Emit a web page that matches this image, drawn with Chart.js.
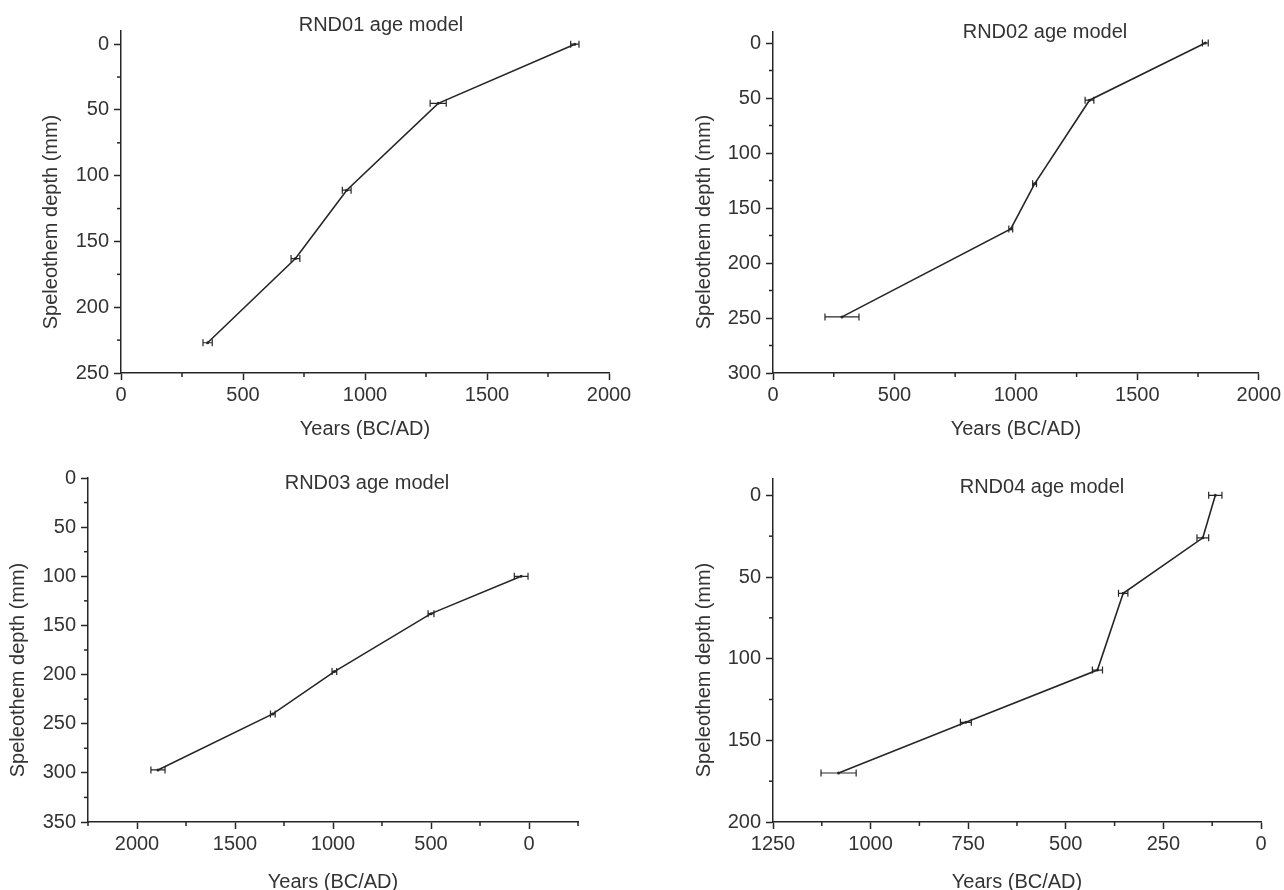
<!DOCTYPE html>
<html>
<head>
<meta charset="utf-8">
<title>RND age models</title>
<script src="https://cdn.jsdelivr.net/npm/chart.js@4.4.1/dist/chart.umd.min.js"></script>
<style>
  html, body { margin: 0; padding: 0; background: #fff; }
  #wrap { position: relative; width: 1284px; height: 890px; overflow: hidden; }
  #wrap canvas { position: absolute; }
</style>
</head>
<body>
<div id="wrap">
  <canvas id="c1" width="642" height="445" style="left:0;top:0"></canvas>
  <canvas id="c2" width="642" height="445" style="left:642px;top:0"></canvas>
  <canvas id="c3" width="642" height="445" style="left:0;top:445px"></canvas>
  <canvas id="c4" width="642" height="445" style="left:642px;top:445px"></canvas>
</div>
<script>
// values: age (years BC/AD), depth (mm), age error (+/- years)
const rnd01Years = [1860, 1300, 925, 715, 355];
const rnd01Depth = [0, 45, 111, 163, 227];
const rnd01Err   = [17, 33, 18, 18, 19];

const rnd02Years = [1780, 1303, 1077, 979, 284];
const rnd02Depth = [0, 52, 128, 169, 249];
const rnd02Err   = [12, 18, 8, 8, 70];

const rnd03Years = [40, 500, 993, 1307, 1893];
const rnd03Depth = [100, 138, 197, 240, 297];
const rnd03Err   = [35, 15, 12, 12, 36];

const rnd04Years = [117, 149, 353, 419, 756, 1082];
const rnd04Depth = [0, 26, 60, 107, 139, 170];
const rnd04Err   = [17, 15, 12, 13, 14, 45];

// labelled ticks
const yearTicks2000 = [0, 500, 1000, 1500, 2000];
const yearTicks1250 = [0, 250, 500, 750, 1000, 1250];
const depthTicks250 = [0, 50, 100, 150, 200, 250];
const depthTicks300 = [0, 50, 100, 150, 200, 250, 300];
const depthTicks350 = [0, 50, 100, 150, 200, 250, 300, 350];
const depthTicks200 = [0, 50, 100, 150, 200];

const titles = ['RND01 age model', 'RND02 age model', 'RND03 age model', 'RND04 age model'];
const xTitle = 'Years (BC/AD)';
const yTitle = 'Speleothem depth (mm)';

const INK = '#262626';
const TEXT = '#333';
const FONT = '"Liberation Sans", Arial, sans-serif';
const FS = 20;
const W = 642, H = 445;

// horizontal age error bars with small caps
const errorBars = {
    id: 'errorBars',
    afterDatasetsDraw(chart) {
        const { ctx, scales: { x, y } } = chart;
        ctx.save();
        ctx.strokeStyle = INK;
        ctx.lineWidth = 1.2;
        chart.data.datasets.forEach(ds => {
            ds.data.forEach((pt, i) => {
                const e = ds.errX[i];
                const xa = x.getPixelForValue(pt.x - e);
                const xb = x.getPixelForValue(pt.x + e);
                const py = y.getPixelForValue(pt.y);
                ctx.beginPath();
                ctx.moveTo(xa, py); ctx.lineTo(xb, py);
                ctx.moveTo(xa, py - 3.5); ctx.lineTo(xa, py + 3.5);
                ctx.moveTo(xb, py - 3.5); ctx.lineTo(xb, py + 3.5);
                ctx.stroke();
            });
        });
        ctx.restore();
    }
};

// short minor ticks halfway between the labelled ones
const minorTicks = {
    id: 'minorTicks',
    afterDraw(chart, args, opts) {
        const { ctx, chartArea } = chart;
        ctx.save();
        ctx.strokeStyle = INK;
        ctx.lineWidth = 1.5;
        ['x', 'y'].forEach(id => {
            const s = chart.scales[id];
            const step = opts[id];
            for (let v = Math.ceil(s.min / step) * step; v <= s.max; v += step) {
                if (v % (step * 2) === 0) continue;
                const p = s.getPixelForValue(v);
                ctx.beginPath();
                if (id === 'x') {
                    ctx.moveTo(p, chartArea.bottom); ctx.lineTo(p, chartArea.bottom + 4);
                } else {
                    ctx.moveTo(chartArea.left, p); ctx.lineTo(chartArea.left - 4, p);
                }
                ctx.stroke();
            }
        });
        ctx.restore();
    }
};

// panel title inside the frame and the rotated depth title
const panelText = {
    id: 'panelText',
    afterDraw(chart, args, opts) {
        const ctx = chart.ctx;
        ctx.save();
        ctx.font = FS + 'px ' + FONT;
        ctx.fillStyle = TEXT;
        ctx.textAlign = 'center';
        ctx.textBaseline = 'middle';
        ctx.fillText(opts.title, opts.titleX, opts.titleY);
        ctx.translate(opts.yTitleX, opts.yTitleY);
        ctx.rotate(-Math.PI / 2);
        ctx.fillText(opts.yTitle, 0, 0);
        ctx.restore();
    }
};

function makePanel(id, o) {
    const points = o.years.map((yr, i) => ({ x: yr, y: o.depth[i] }));
    const tickFont = { family: FONT, size: FS };
    return new Chart(document.getElementById(id), {
        type: 'scatter',
        data: {
            datasets: [{
                data: points,
                errX: o.err,
                showLine: true,
                borderColor: INK,
                borderWidth: 1.6,
                pointRadius: 1.5,
                pointBackgroundColor: INK,
                pointBorderWidth: 0
            }]
        },
        options: {
            responsive: false,
            animation: false,
            events: [],
            layout: { padding: { left: 0, top: o.area.top, right: W - o.area.right, bottom: 0 } },
            plugins: {
                legend: { display: false },
                tooltip: { enabled: false },
                minorTicks: { x: o.xMinor, y: 25 },
                panelText: {
                    title: o.title, titleX: o.titlePos[0], titleY: o.titlePos[1],
                    yTitle: yTitle, yTitleX: o.yTitlePos[0], yTitleY: o.yTitlePos[1]
                }
            },
            scales: {
                x: {
                    type: 'linear',
                    position: 'bottom',
                    min: o.xMin, max: o.xMax,
                    reverse: o.xReverse,
                    afterFit: s => { s.height = H - o.area.bottom; },
                    afterBuildTicks: s => { s.ticks = o.xTicks.map(v => ({ value: v })); },
                    ticks: { color: TEXT, font: tickFont, padding: 3, maxRotation: 0, autoSkip: false, callback: v => String(v) },
                    grid: { drawOnChartArea: false, drawTicks: true, tickLength: 7, tickColor: INK, tickWidth: 1.5 },
                    border: { display: true, color: INK, width: 1.5 },
                    title: { display: true, text: xTitle, color: TEXT, font: tickFont, padding: { top: 0, bottom: o.xTitlePad } }
                },
                y: {
                    type: 'linear',
                    min: o.yMin, max: o.yMax,
                    reverse: true,
                    afterFit: s => { s.width = o.area.left; },
                    afterBuildTicks: s => { s.ticks = o.yTicks.map(v => ({ value: v })); },
                    ticks: { color: TEXT, font: tickFont, padding: 5, autoSkip: false, callback: v => String(v) },
                    grid: { drawOnChartArea: false, drawTicks: true, tickLength: 7, tickColor: INK, tickWidth: 1.5 },
                    border: { display: true, color: INK, width: 1.5 }
                }
            }
        },
        plugins: [errorBars, minorTicks, panelText]
    });
}

makePanel('c1', {
    years: rnd01Years, depth: rnd01Depth, err: rnd01Err, title: titles[0],
    xMin: 0, xMax: 2000, xTicks: yearTicks2000, xMinor: 250, xReverse: false,
    yMin: -10, yMax: 250, yTicks: depthTicks250,
    area: { left: 121, right: 609, top: 31, bottom: 373 },
    titlePos: [381, 25], yTitlePos: [51, 222], xTitlePad: 4
});

makePanel('c2', {
    years: rnd02Years, depth: rnd02Depth, err: rnd02Err, title: titles[1],
    xMin: 0, xMax: 2000, xTicks: yearTicks2000, xMinor: 250, xReverse: false,
    yMin: -10, yMax: 300, yTicks: depthTicks300,
    area: { left: 131, right: 619, top: 32, bottom: 373 },
    titlePos: [403, 32], yTitlePos: [62, 222], xTitlePad: 4
});

makePanel('c3', {
    years: rnd03Years, depth: rnd03Depth, err: rnd03Err, title: titles[2],
    xMin: -250, xMax: 2250, xTicks: yearTicks2000, xMinor: 250, xReverse: true,
    yMin: 0, yMax: 350, yTicks: depthTicks350,
    area: { left: 88, right: 578, top: 33, bottom: 377 },
    titlePos: [367, 38], yTitlePos: [18, 225], xTitlePad: -4
});

makePanel('c4', {
    years: rnd04Years, depth: rnd04Depth, err: rnd04Err, title: titles[3],
    xMin: 0, xMax: 1250, xTicks: yearTicks1250, xMinor: 125, xReverse: true,
    yMin: -10, yMax: 200, yTicks: depthTicks200,
    area: { left: 131, right: 619, top: 34, bottom: 377 },
    titlePos: [400, 42], yTitlePos: [62, 225], xTitlePad: -4
});
</script>
</body>
</html>
